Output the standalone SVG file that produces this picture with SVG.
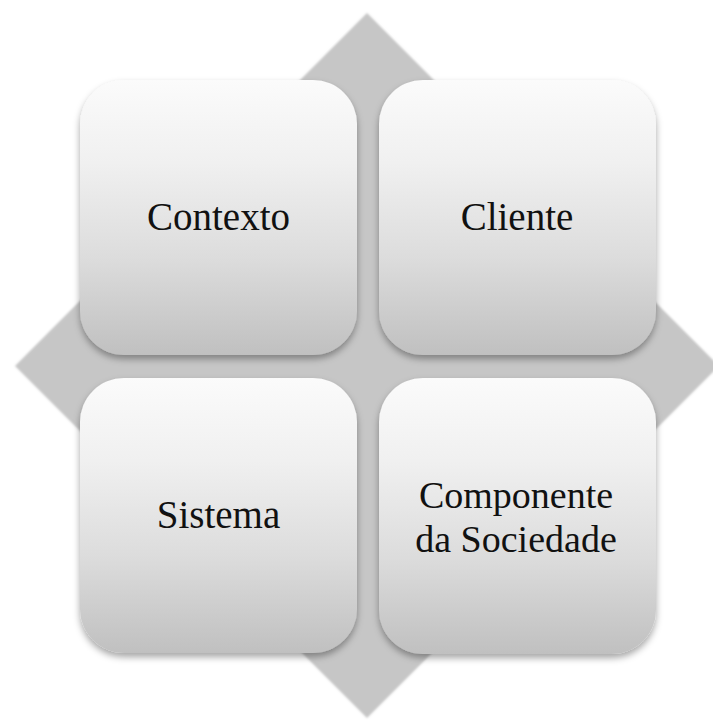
<svg xmlns="http://www.w3.org/2000/svg" width="713" height="722" viewBox="0 0 713 722">
  <defs>
    <linearGradient id="boxGrad" x1="0" y1="0" x2="0" y2="1">
      <stop offset="0" stop-color="#fbfbfb"/>
      <stop offset="0.3" stop-color="#f0f0f0"/>
      <stop offset="0.65" stop-color="#dcdcdc"/>
      <stop offset="1" stop-color="#c0c0c0"/>
    </linearGradient>
    <filter id="shadow" x="-10%" y="-10%" width="120%" height="125%">
      <feDropShadow dx="0" dy="4" stdDeviation="3.5" flood-color="#000" flood-opacity="0.35"/>
    </filter>
    <filter id="soft" x="-5%" y="-5%" width="110%" height="110%">
      <feGaussianBlur stdDeviation="0.8"/>
    </filter>
  </defs>
  <style>
    .box { fill: url(#boxGrad); filter: url(#shadow); }
    .label { font-family: "Liberation Serif", "Times New Roman", serif; font-size: 39px; fill: #111; text-anchor: middle; }
    .label2 { font-size: 38px; }
  </style>
  <rect width="713" height="722" fill="#ffffff"/>
  <g id="background-diamond">
    <polygon points="367,13 719,366 367,718 15,366" fill="#c6c6c6" filter="url(#soft)"/>
  </g>
  <g id="connectors"></g>
  <g id="node-contexto">
    <rect class="box" x="80" y="80" width="277" height="275" rx="44" ry="44"/>
    <text class="label" x="218.5" y="230">Contexto</text>
  </g>
  <g id="node-cliente">
    <rect class="box" x="379" y="80" width="277" height="275" rx="44" ry="44"/>
    <text class="label" x="517" y="230">Cliente</text>
  </g>
  <g id="node-sistema">
    <rect class="box" x="80" y="378" width="277" height="275" rx="44" ry="44"/>
    <text class="label" x="218.5" y="528">Sistema</text>
  </g>
  <g id="node-componente">
    <rect class="box" x="379" y="378" width="277" height="276" rx="44" ry="44"/>
    <text class="label label2"><tspan x="516" y="508">Componente</tspan><tspan x="516" y="552">da Sociedade</tspan></text>
  </g>
</svg>
